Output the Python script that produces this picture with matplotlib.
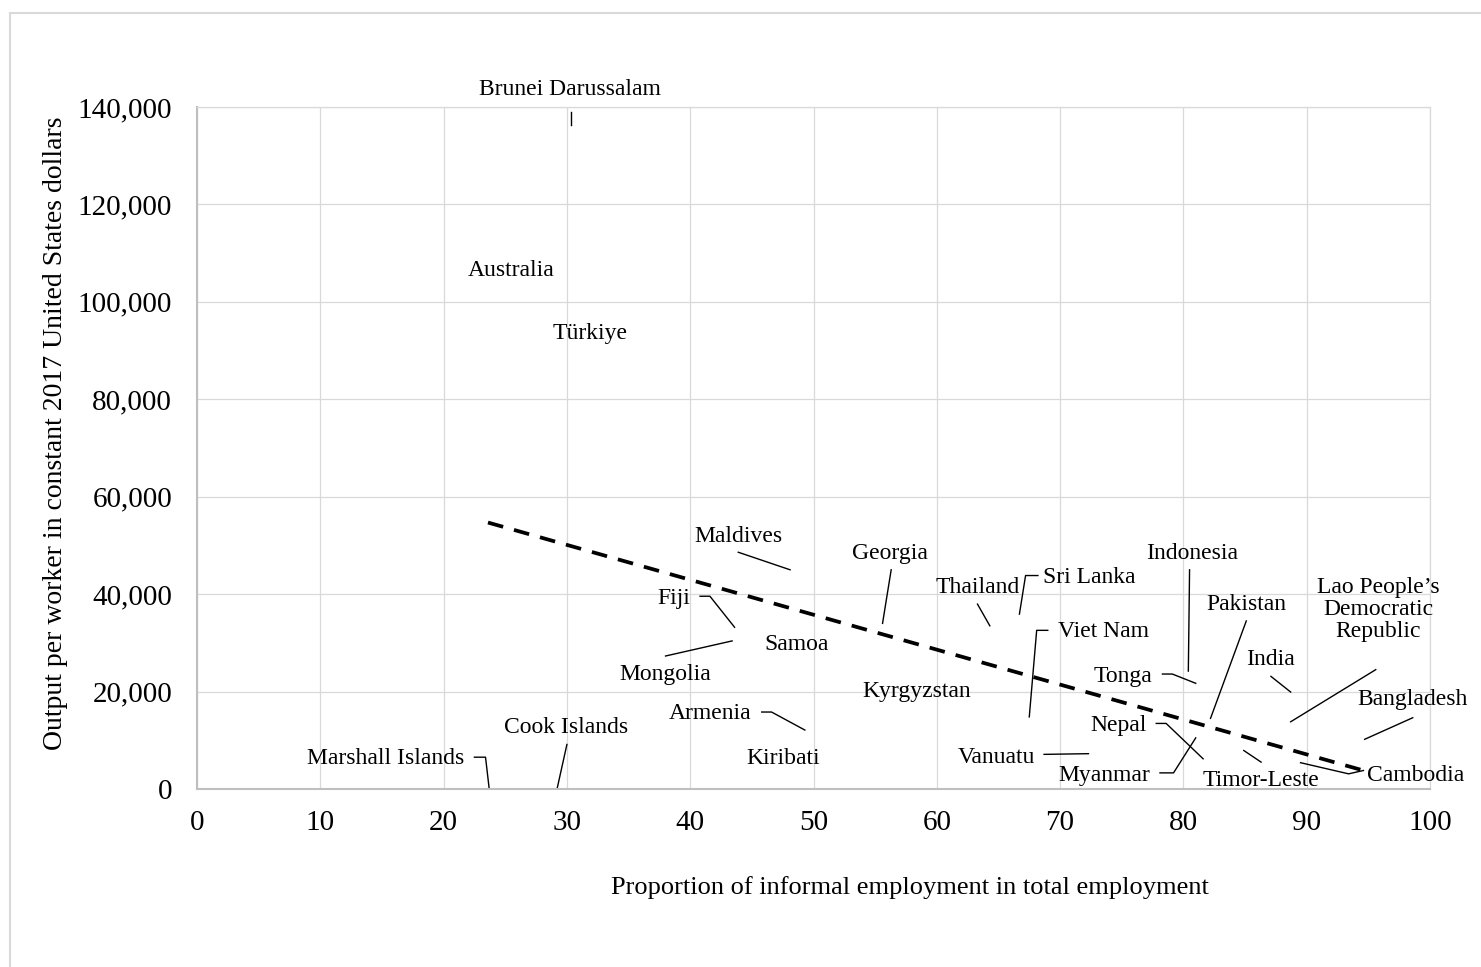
import matplotlib
matplotlib.use("Agg")
import matplotlib.pyplot as plt
from matplotlib.patches import Rectangle
from matplotlib.ticker import FuncFormatter

plt.rcParams["font.family"] = ["Liberation Serif", "DejaVu Serif"]

# informal employment share (%) and output per worker (constant 2017 USD)
countries = ["Brunei Darussalam", "Australia", "Türkiye", "Maldives", "Georgia",
             "Fiji", "Samoa", "Mongolia", "Kyrgyzstan", "Armenia", "Kiribati",
             "Marshall Islands", "Cook Islands", "Thailand", "Sri Lanka", "Viet Nam",
             "Indonesia", "Pakistan", "Tonga", "India",
             "Lao People\u2019s\nDemocratic\nRepublic", "Bangladesh", "Nepal",
             "Vanuatu", "Myanmar", "Timor-Leste", "Cambodia"]
informal = [30.3, 25.5, 31.9, 48.1, 55.6,
            43.6, 48.6, 43.4, 58.4, 49.3, 47.5,
            23.7, 29.2, 64.3, 66.7, 67.5,
            80.4, 82.2, 81.0, 88.7,
            88.7, 94.7, 81.6,
            72.3, 81.0, 84.9, 89.5]
output = [136300, 106500, 93600, 45000, 34000,
          33200, 29600, 30400, 20100, 12100, 6250,
          0, 0, 33500, 35900, 14800,
          24200, 14500, 21700, 19900,
          13800, 10200, 6200,
          7250, 10500, 7900, 5400]

# trend line end points
trend_x = [23.6, 94.6]
trend_y = [54700, 3800]

# label layout: label centre and leader-line waypoints (missing -> label sits on the point)
label_pos = {
    "Brunei Darussalam": (30.25, 143500), "Maldives": (43.9, 51870),
    "Georgia": (56.2, 48430), "Fiji": (38.7, 39020), "Mongolia": (38.0, 23560),
    "Armenia": (41.6, 15460), "Marshall Islands": (15.3, 6250),
    "Cook Islands": (29.9, 12580), "Thailand": (63.3, 41400),
    "Sri Lanka": (72.4, 43470), "Viet Nam": (73.5, 32430),
    "Indonesia": (80.7, 48300), "Pakistan": (85.1, 37950), "Tonga": (75.1, 23100),
    "India": (87.1, 26570), "Lao People\u2019s\nDemocratic\nRepublic": (95.8, 36900),
    "Bangladesh": (98.6, 18290), "Nepal": (74.7, 13110), "Vanuatu": (64.8, 6555),
    "Myanmar": (73.6, 2760), "Timor-Leste": (86.3, 1725), "Cambodia": (98.8, 2760),
}
leader_via = {
    "Brunei Darussalam": [(30.3, 139000)], "Maldives": [(43.9, 48600)],
    "Georgia": [(56.3, 45000)], "Fiji": [(40.8, 39570), (41.6, 39570)],
    "Mongolia": [(38.0, 27300)], "Armenia": [(45.8, 15800), (46.6, 15800)],
    "Marshall Islands": [(22.5, 6530), (23.4, 6530)], "Cook Islands": [(30.0, 9140)],
    "Thailand": [(63.3, 37950)], "Sri Lanka": [(68.2, 43820), (67.2, 43820)],
    "Viet Nam": [(69.0, 32570), (68.1, 32570)], "Indonesia": [(80.5, 44990)],
    "Pakistan": [(85.1, 34500)], "Tonga": [(78.3, 23600), (79.1, 23600)],
    "India": [(87.1, 23120)], "Lao People\u2019s\nDemocratic\nRepublic": [(95.6, 24500)],
    "Bangladesh": [(98.6, 14630)], "Nepal": [(77.8, 13460), (78.6, 13460)],
    "Vanuatu": [(68.7, 7110)], "Myanmar": [(78.1, 3310), (79.2, 3310)],
    "Timor-Leste": [(86.3, 5520)], "Cambodia": [(94.6, 3800), (93.4, 3110)],
}

fig = plt.figure(figsize=(14.81, 9.67), dpi=100)
fig.patches.append(Rectangle((10 / 1481, -0.1), 1.2, 1.1 - 13 / 967,
                             transform=fig.transFigure, fill=False,
                             edgecolor="#d9d9d9", linewidth=1.5))
ax = fig.add_axes([197 / 1481, 1 - 789 / 967, (1430 - 197) / 1481, (789 - 107) / 967])

ax.set_xlim(0, 100)
ax.set_ylim(0, 140000)
ax.set_xticks(range(0, 101, 10))
ax.set_yticks(range(0, 140001, 20000))
ax.yaxis.set_major_formatter(FuncFormatter(lambda v, p: f"{int(v):,}"))
ax.grid(True, color="#d9d9d9", linewidth=0.9)
ax.set_axisbelow(True)
ax.tick_params(axis="both", length=0, labelsize=21)
ax.tick_params(axis="x", pad=15)
ax.tick_params(axis="y", pad=18)
for s in ["top", "right"]:
    ax.spines[s].set_color("#d9d9d9")
    ax.spines[s].set_linewidth(0.9)
for s in ["left", "bottom"]:
    ax.spines[s].set_color("#bfbfbf")
    ax.spines[s].set_linewidth(1.5)

# invisible points (the chart shows labels only)
ax.scatter(informal, output, s=0)

ax.plot(trend_x, trend_y, color="black", linewidth=2.7, dashes=(4.2, 3.0))

for name, x, y in zip(countries, informal, output):
    lx, ly = label_pos.get(name, (x, y))
    ax.text(lx, ly, name, fontsize=17, ha="center", va="center",
            multialignment="center", linespacing=1.05, clip_on=False)
    if name in leader_via:
        pts = leader_via[name] + [(x, y)]
        ax.plot([p[0] for p in pts], [p[1] for p in pts], color="black",
                linewidth=1.0, clip_on=False)

fig.text(910 / 1481, 1 - 888 / 967, "Proportion of informal employment in total employment",
         fontsize=19, ha="center", va="center")
fig.text(56 / 1481, 1 - 433 / 967, "Output per worker in constant 2017 United States dollars",
         fontsize=20, ha="center", va="center", rotation=90)

fig.savefig("out.png", dpi=100)
